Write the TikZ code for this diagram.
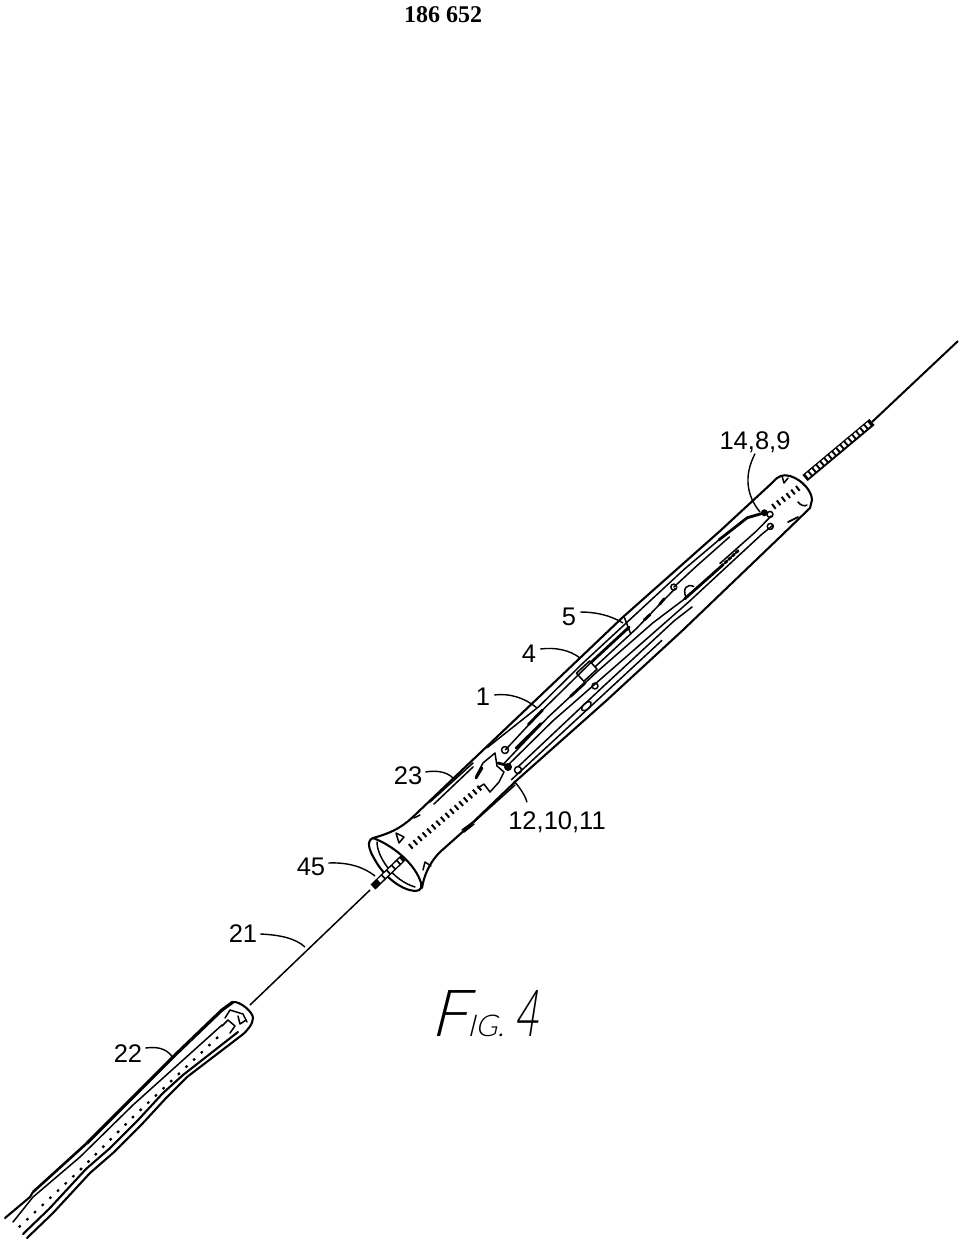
\documentclass[tikz,border=0pt]{standalone}
\usepackage{fontspec}
\setmainfont{Liberation Sans}
\newfontfamily\headfont{Liberation Serif}
\newfontfamily\figfont[FakeSlant=0.25,UprightFont=* Light]{Lato}
\usetikzlibrary{calc}

\tikzset{
	wall/.style={line width=2.1pt, line join=round, line cap=round},
	fine/.style={line width=1.5pt, line join=round, line cap=round},
	heavy/.style={line width=2.8pt, line join=round, line cap=round},
	leader/.style={line width=1.4pt},
	partno/.style={font=\fontsize{25.5}{25.5}\selectfont, inner sep=1pt},
	coil/.style={line width=6pt, dash pattern=on 2pt off 4pt},
}

\begin{document}
\begin{tikzpicture}[x=1pt, y=-1pt]

	\useasboundingbox (0,0) rectangle (960,1243);

	% Heading and figure title
	\node[font=\headfont\bfseries\fontsize{24}{24}\selectfont, inner sep=0pt] (head) at (443,15) {186 652};
	\node[inner sep=0pt] (figtitle) at (484,1014) {\figfont\fontsize{65}{65}\selectfont F\fontsize{30}{30}\selectfont IG.\hspace{10pt}\scalebox{.62}[1]{\fontsize{65}{65}\selectfont 4}};

	% Part numbers
	\node[partno] (n14) at (755,442) {14,8,9};
	\node[partno] (n5) at (569,617) {5};
	\node[partno] (n4) at (529,654) {4};
	\node[partno] (n1) at (483,697) {1};
	\node[partno] (n23) at (408,776) {23};
	\node[partno] (n12) at (557,822) {12,10,11};
	\node[partno] (n45) at (311,867) {45};
	\node[partno] (n21) at (243,934) {21};
	\node[partno] (n22) at (128,1054) {22};

	% Ends of the leaders
	\coordinate (p14) at (760,512);
	\coordinate (p5) at (623,623);
	\coordinate (p4) at (580,658);
	\coordinate (p1) at (537,708);
	\coordinate (p23) at (453,778);
	\coordinate (p12) at (514,781);
	\coordinate (p45) at (375,876);
	\coordinate (p21) at (305,947);
	\coordinate (p22) at (173,1058);

	% Leaders
	\draw[leader] (n14.south) .. controls (744,475) and (746,495) .. (p14);
	\draw[leader] (n5.east) ++(3,-5) .. controls (595,612) and (610,615) .. (p5);
	\draw[leader] (n4.east) ++(3,-5) .. controls (555,647) and (570,650) .. (p4);
	\draw[leader] (n1.east) ++(3,-2) .. controls (510,693) and (525,698) .. (p1);
	\draw[leader] (n23.east) ++(2,-4) .. controls (437,770) and (447,772) .. (p23);
	\draw[leader] (n12.north) ++(-30,-8) .. controls (526,798) and (522,790) .. (p12);
	\draw[leader] (n45.east) ++(2,-4) .. controls (350,862) and (365,868) .. (p45);
	\draw[leader] (n21.east) ++(2,0) .. controls (280,935) and (295,938) .. (p21);
	\draw[leader] (n22.east) ++(2,-6) .. controls (160,1046) and (168,1050) .. (p22);

	% Wire and coiled tip at the far end
	\draw[line width=2pt] (958,341) -- (872,422);
	\draw[line width=8pt] (872,422) -- (805,478);
	\draw[white, line width=4.6pt, dash pattern=on 3pt off 2.2pt] (869,424) -- (807,476);

	% Main tube, outer walls
	\draw[wall] (773,482) -- (720,531) -- (623,617) -- (560,677) -- (480,753) -- (417,813)
		.. controls (405,825) and (395,832) .. (373,838);
	\draw[wall] (773,482) .. controls (778,476) and (783,474) .. (790,476)
		.. controls (803,480) and (812,492) .. (812,500) -- (810,508)
		-- (780,537) -- (683,630) -- (607,700) -- (517,780) -- (467,828) -- (440,852)
		.. controls (430,862) and (424,875) .. (422,888);

	% Flared mouth
	\draw[wall] (373,838) .. controls (366,841) and (369,850) .. (375,860)
		.. controls (385,878) and (402,890) .. (415,891)
		.. controls (421,891) and (423,887) .. (420,880)
		.. controls (413,862) and (392,845) .. (373,838);
	\draw[fine] (377,842) .. controls (377,856) and (392,880) .. (415,887);

	% Rod inside the mouth and the thin wire
	\draw[line width=7pt] (373,887) -- (403,858);
	\draw[white, line width=4pt, dash pattern=on 5pt off 2pt] (379,881) -- (401,860);
	\draw[line width=1.5pt] (370,890) -- (250,1005);

	% Small marks on the main tube
	\draw[fine] (430,802) -- (473,763) (434,804) -- (473,767);
	\draw[fine] (462,830) -- (473,822) (464,832) -- (474,824);
	\draw[fine] (474,822) -- (515,785);
	\draw[fine] (396,833) -- (404,837) -- (399,843) -- cycle;
	\draw[fine] (414,818) -- (420,815);
	\draw[fine] (423,870) -- (425,862) -- (431,866);
	\draw[fine] (798,502) .. controls (800,505) and (805,507) .. (807,505);
	\draw[heavy, line width=1.8pt] (788,522) -- (798,517);
	\draw[fine] (782,476) -- (784,483) -- (788,478);
	\draw[coil] (773,507) -- (801,486);
	\draw[coil] (410,847) -- (483,785);

	% Scrawl of the joint near the mouth
	\draw[fine] (476,776) -- (483,763) -- (495,753) -- (497,766) -- (504,772) -- (499,782) -- (490,792) -- (484,784) -- (478,788);
	\draw[heavy] (482,768) -- (476,778) (498,763) -- (510,766);
	\fill (508,767) circle (4pt);
	\draw[fine] (505,750) circle (3.5pt);
	\draw[fine] (518,770) circle (3.5pt);

	% Inner wires, drawn along the tube
	\begin{scope}[shift={(792,494)}, rotate=222.8]
		% upper wires
		\draw[heavy] (33,5) -- (49,13) -- (85,16);
		\fill (33,5) circle (3.5pt);
		\draw[fine] (85,16) -- (130,18) -- (207,18) -- (270,18) -- (330,16) -- (396,21);
		\draw[fine] (75,11) -- (120,12) -- (150,12);
		\draw[fine] (150,12) circle (3pt);
		\draw[fine] (150,10) -- (172,9) -- (205,7) -- (262,7);
		\draw[heavy] (165,10) -- (172,9) (186,8) -- (194,8);
		\draw[fine] (207,23) -- (213,8);
		\draw[heavy] (210,13) -- (262,13);
		\draw[fine] (262,13) -- (330,11) -- (384,7);
		\draw[heavy] (330,11) -- (350,10);

		% middle wires
		\draw[fine] (30,-2) -- (52,-3) -- (100,-2);
		\draw[fine] (35,-10) -- (50,-9) -- (150,-9) -- (225,-7) -- (330,-4) -- (394,-6);
		\draw[fine] (30,0) circle (3pt) (38,-9) circle (3pt);
		\draw[heavy, dash pattern=on 3pt off 2pt] (78,-5) -- (100,-5);
		\draw[heavy] (100,-5) -- (150,-4);
		\draw[fine] (148,-4) .. controls (145,5) and (138,6) .. (135,-1);
		\draw[fine] (150,-4) -- (190,0) -- (262,2) -- (330,2);
		\draw[heavy] (280,2) -- (300,2) (340,2) -- (375,1);
		\draw[fine] (330,2) -- (394,-2);

		% lower wires
		\draw[fine] (150,-15) -- (172,-13) -- (270,-13) -- (386,-14);
		\draw[fine] (195,-19) -- (300,-19) -- (400,-19);
		\draw[fine] (275,-7) circle (3pt) (295,-16) ellipse (6pt and 3pt);

		% box under the leader of part 4
		\draw[fine] (262,15) -- (262,4) -- (280,4) -- (280,15) -- cycle;
	\end{scope}

	% Outer sleeve at the near end
	\draw[line width=3.2pt, line join=round] (233,1002) -- (222,1010) -- (173,1057) -- (127,1103) -- (87,1143);
	\draw[line width=2.6pt, line join=round] (87,1143) -- (33,1192);
	\draw[wall] (33,1192) -- (30,1197) -- (5,1218);
	\draw[wall] (233,1002) .. controls (240,1001) and (253,1012) .. (253,1018)
		.. controls (253,1024) and (247,1031) .. (242,1035);
	\draw[wall] (242,1035) -- (187,1077) -- (167,1097) -- (143,1123) -- (113,1153) -- (90,1173) -- (53,1213) -- (27,1238);
	\draw[wall] (238,1032) -- (183,1075) -- (163,1093) -- (139,1119) -- (109,1149) -- (86,1169) -- (49,1209) -- (23,1234);
	\draw[fine] (222,1025) -- (133,1105) -- (80,1157) -- (33,1197) -- (13,1222);
	\draw[line width=2.2pt, dash pattern=on 2.5pt off 8pt] (218,1037) -- (133,1117) -- (80,1170) -- (18,1228);
	\draw[fine] (225,1018) -- (230,1010) -- (243,1014) -- (247,1022);
	\draw[fine] (222,1026) -- (228,1020) -- (235,1026) -- (230,1033) (238,1016) -- (240,1024) -- (246,1020);

\end{tikzpicture}
\end{document}
